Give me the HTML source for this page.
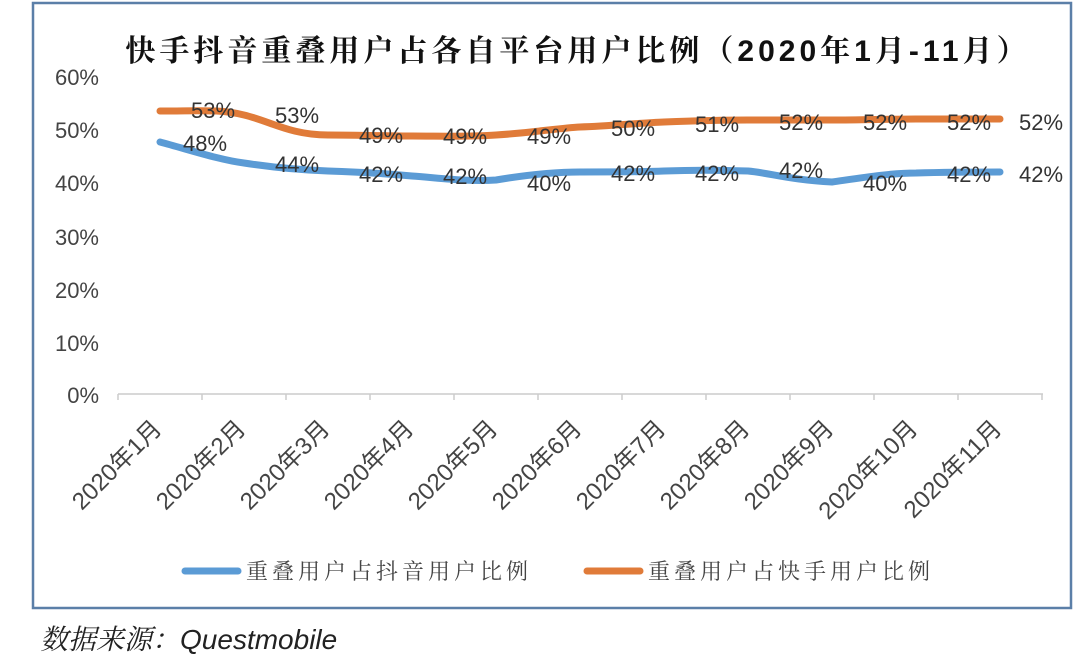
<!DOCTYPE html>
<html><head><meta charset="utf-8"><style>
body{margin:0;background:#fff;width:1080px;height:659px;overflow:hidden;font-family:"Liberation Sans","Noto Sans CJK SC",sans-serif;}
</style></head><body>
<svg width="1080" height="659" xmlns="http://www.w3.org/2000/svg" font-family="Liberation Sans, Noto Sans CJK SC, sans-serif">
<rect x="33" y="3" width="1038" height="605" fill="#fff" stroke="#5b7fa8" stroke-width="2.5"/>
<text x="578" y="61" text-anchor="middle" font-size="30" font-weight="bold" fill="#111" font-family="Liberation Sans, Noto Serif CJK SC, serif" letter-spacing="4">快手抖音重叠用户占各自平台用户比例（2020年1月-11月）</text>
<g font-size="22" fill="#444" text-anchor="end">
<text x="99" y="85">60%</text><text x="99" y="138">50%</text><text x="99" y="191">40%</text>
<text x="99" y="245">30%</text><text x="99" y="298">20%</text><text x="99" y="351">10%</text><text x="99" y="403">0%</text>
</g>
<line x1="118" y1="394" x2="1043" y2="394" stroke="#ccc" stroke-width="1.5"/>
<g stroke="#ccc" stroke-width="1.5">
<line x1="118" y1="394" x2="118" y2="400"/><line x1="202" y1="394" x2="202" y2="400"/><line x1="286" y1="394" x2="286" y2="400"/><line x1="370" y1="394" x2="370" y2="400"/><line x1="454" y1="394" x2="454" y2="400"/><line x1="538" y1="394" x2="538" y2="400"/><line x1="622" y1="394" x2="622" y2="400"/><line x1="706" y1="394" x2="706" y2="400"/><line x1="790" y1="394" x2="790" y2="400"/><line x1="874" y1="394" x2="874" y2="400"/><line x1="958" y1="394" x2="958" y2="400"/><line x1="1042" y1="394" x2="1042" y2="400"/>
</g>
<path d="M160,111 C200,111 220,109 244,115 C270,121 290,135 328,135 C360,135 390,136 412,136 C440,136 470,137 496,135 C530,133 560,128 580,127 C610,126 640,123 664,122 C690,121 720,120 748,120 C780,120 810,120 832,120 C860,120 890,119 916,119 C940,119 970,119 1000,119" fill="none" stroke="#e07b39" stroke-width="7" stroke-linecap="round"/>
<path d="M160,142 C190,150 220,160 244,163 C270,167 300,170 328,171 C360,172 390,174 412,176 C440,178 470,182 496,180 C520,176 550,172 580,172 C610,172 640,172 664,171 C690,170 720,170 748,171 C770,173 790,180 832,182 C860,178 890,173 916,173 C950,172 980,172 1000,172" fill="none" stroke="#5b9bd5" stroke-width="7" stroke-linecap="round"/>
<g font-size="22" fill="#333" text-anchor="middle">
<text x="213" y="118">53%</text><text x="297" y="123">53%</text><text x="381" y="143">49%</text><text x="465" y="144">49%</text><text x="549" y="144">49%</text><text x="633" y="136">50%</text><text x="717" y="132">51%</text><text x="801" y="130">52%</text><text x="885" y="130">52%</text><text x="969" y="130">52%</text><text x="1041" y="130">52%</text>
<text x="205" y="151">48%</text><text x="297" y="172">44%</text><text x="381" y="182">42%</text><text x="465" y="184">42%</text><text x="549" y="191">40%</text><text x="633" y="181">42%</text><text x="717" y="181">42%</text><text x="801" y="178">42%</text><text x="885" y="191">40%</text><text x="969" y="182">42%</text><text x="1041" y="182">42%</text>
</g>
<g font-size="24" fill="#444" text-anchor="end">
<text transform="translate(163,430) rotate(-45)">2020年1月</text>
<text transform="translate(247,430) rotate(-45)">2020年2月</text>
<text transform="translate(331,430) rotate(-45)">2020年3月</text>
<text transform="translate(415,430) rotate(-45)">2020年4月</text>
<text transform="translate(499,430) rotate(-45)">2020年5月</text>
<text transform="translate(583,430) rotate(-45)">2020年6月</text>
<text transform="translate(667,430) rotate(-45)">2020年7月</text>
<text transform="translate(751,430) rotate(-45)">2020年8月</text>
<text transform="translate(835,430) rotate(-45)">2020年9月</text>
<text transform="translate(919,430) rotate(-45)">2020年10月</text>
<text transform="translate(1003,430) rotate(-45)">2020年11月</text>
</g>
<line x1="185" y1="571" x2="238" y2="571" stroke="#5b9bd5" stroke-width="7" stroke-linecap="round"/>
<text x="246" y="579" font-size="22" fill="#444" font-family="Noto Serif CJK SC, serif" letter-spacing="4">重叠用户占抖音用户比例</text>
<line x1="587" y1="571" x2="640" y2="571" stroke="#e07b39" stroke-width="7" stroke-linecap="round"/>
<text x="648" y="579" font-size="22" fill="#444" font-family="Noto Serif CJK SC, serif" letter-spacing="4">重叠用户占快手用户比例</text>
<text x="40" y="649" font-size="28" fill="#222" font-style="italic"><tspan font-family="Noto Serif CJK SC, serif">数据来源：</tspan>Questmobile</text>
</svg>
</body></html>
